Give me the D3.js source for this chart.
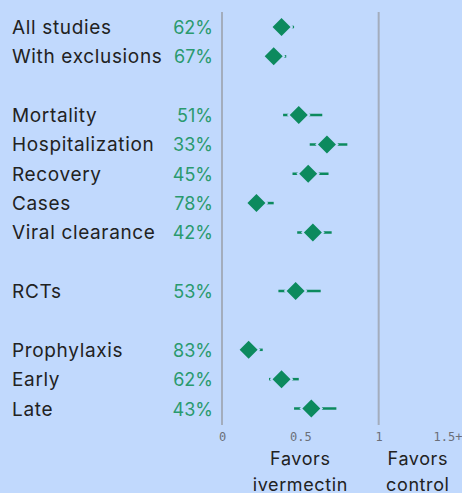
<!DOCTYPE html>
<html>
<head>
<meta charset="utf-8">
<script src="https://cdn.jsdelivr.net/npm/d3@7"></script>
<style>
  html, body { margin: 0; padding: 0; background: #c1d9fd; }
  svg { display: block; }
</style>
</head>
<body>
<div id="chart-area"></div>
<script>
// rows (index = vertical slot, gaps are left empty)
let labels  = ["All studies", "With exclusions", "Mortality", "Hospitalization", "Recovery", "Cases", "Viral clearance", "RCTs", "Prophylaxis", "Early", "Late"];
let slots   = [0, 1, 3, 4, 5, 6, 7, 9, 11, 12, 13];
let percent = ["62%", "67%", "51%", "33%", "45%", "78%", "42%", "53%", "83%", "62%", "43%"];
// relative risk estimate and CI
let est   = [0.38, 0.33, 0.49, 0.67, 0.55, 0.22, 0.58, 0.47, 0.17, 0.38, 0.57];
let lower = [0.32, 0.28, 0.39, 0.56, 0.45, 0.17, 0.48, 0.36, 0.12, 0.30, 0.46];
let upper = [0.46, 0.41, 0.64, 0.80, 0.68, 0.33, 0.70, 0.63, 0.26, 0.49, 0.73];
let tickVals   = [0, 0.5, 1, 1.5];
let tickLabels = ["0", "0.5", "1", "1.5+"];

let W = 462, H = 493;
let green = "#0c8a5e";
let bg = "#c1d9fd";

let svg = d3.select("#chart-area")
            .append("svg")
            .attr("width", W)
            .attr("height", H);

let x = d3.scaleLinear()
        .domain([0, 1.5])
        .range([222, 457]);

let y = d3.scaleLinear()
        .domain([0, 13])
        .range([27, 408.5]);

// reference lines at 0 and 1
svg.selectAll("line.ref")
   .data([0, 1])
   .enter()
   .append("line")
   .attr("class", "ref")
   .attr("x1", d => x(d))
   .attr("x2", d => x(d))
   .attr("y1", 12)
   .attr("y2", 425)
   .attr("stroke", "#a3adbd")
   .attr("stroke-width", 2);

// axis labels
let axis = d3.axisBottom(x)
             .tickValues(tickVals)
             .tickFormat((d, i) => tickLabels[i])
             .tickSize(0)
             .tickPadding(0);

let gAxis = svg.append("g")
   .attr("transform", "translate(0,432)")
   .call(axis);
gAxis.select(".domain").remove();
gAxis.selectAll("text")
   .attr("font-family", "'DejaVu Sans Mono', monospace")
   .attr("font-size", 12)
   .attr("fill", "#6b6f78")
   .attr("dy", "0.71em");
gAxis.selectAll(".tick:last-of-type text")
   .attr("text-anchor", "end")
   .attr("dx", 5);

let data = labels.map((d, i) => ({
  label: d, slot: slots[i], pct: percent[i], est: est[i], lo: lower[i], hi: upper[i]
}));

let rows = svg.selectAll("g.row")
   .data(data)
   .enter()
   .append("g")
   .attr("class", "row")
   .attr("transform", d => "translate(0," + y(d.slot) + ")");

rows.append("text")
   .attr("x", 12)
   .attr("y", 7)
   .attr("font-family", "Inter, sans-serif")
   .attr("font-size", 19)
   .attr("letter-spacing", 0.65)
   .attr("fill", "#222")
   .text(d => d.label);

rows.append("text")
   .attr("x", 213)
   .attr("y", 7)
   .attr("text-anchor", "end")
   .attr("font-family", "Inter, sans-serif")
   .attr("font-size", 18)
   .attr("fill", "#2a9a6e")
   .text(d => d.pct);

rows.append("line")
   .attr("x1", d => x(d.lo))
   .attr("x2", d => x(d.hi))
   .attr("stroke", green)
   .attr("stroke-width", 2.5);

let diamond = d3.symbol(d3.symbolSquare, 162);
rows.append("path")
   .attr("d", diamond)
   .attr("transform", d => "translate(" + x(d.est) + ",0) rotate(45)")
   .attr("fill", green)
   .attr("stroke", bg)
   .attr("stroke-width", 4)
   .attr("paint-order", "stroke");

// bottom captions
let captions = [
  { x: 0.5, lines: ["Favors", "ivermectin"] },
  { x: 1.25, lines: ["Favors", "control"] }
];
captions.forEach(c => {
  c.lines.forEach((t, i) => {
    svg.append("text")
       .attr("x", x(c.x))
       .attr("y", 465 + i * 26)
       .attr("text-anchor", "middle")
       .attr("font-family", "Inter, sans-serif")
       .attr("font-size", 18)
       .attr("letter-spacing", 0.6)
       .attr("fill", "#222")
       .text(t);
  });
});
</script>
</body>
</html>
